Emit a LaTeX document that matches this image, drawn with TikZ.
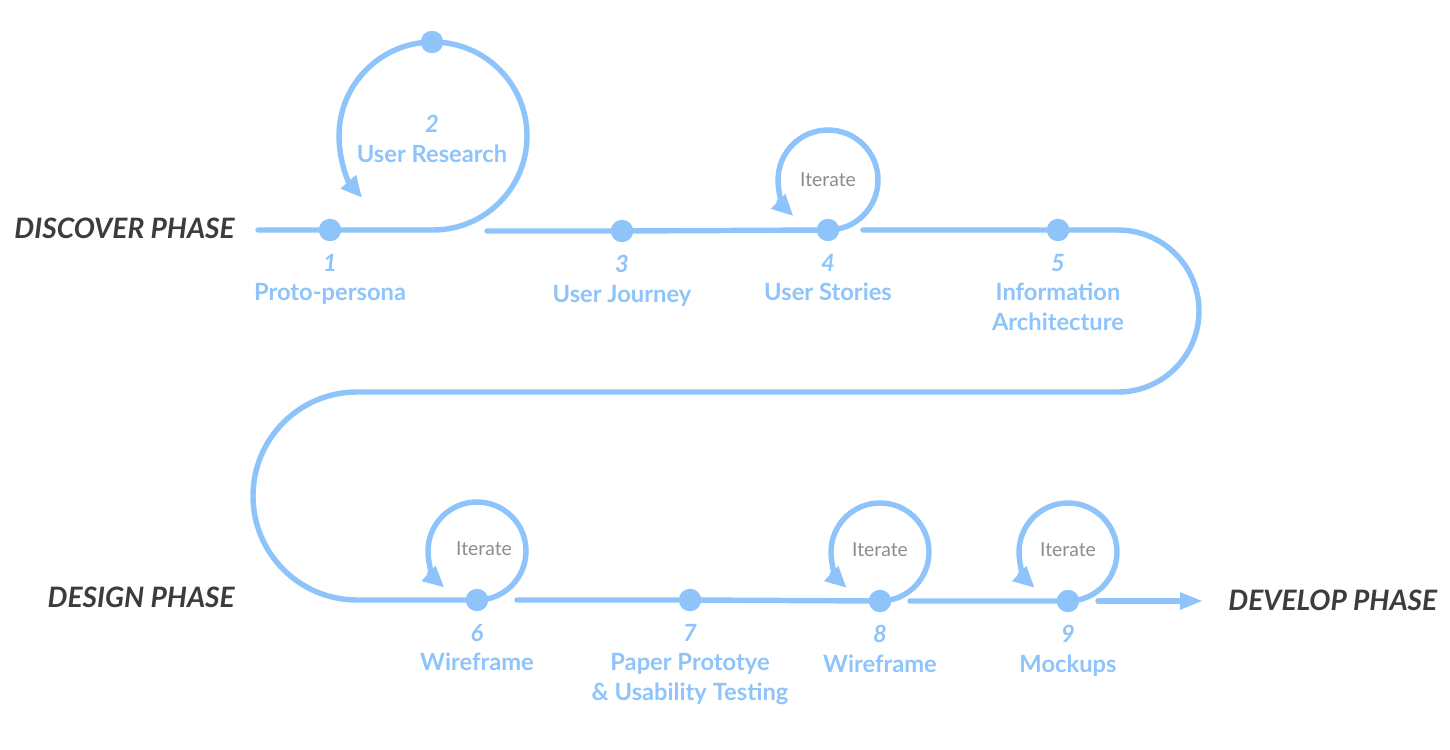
\documentclass[tikz,border=0pt]{standalone}
\usepackage{fontspec}
\setmainfont{Lato}
\usetikzlibrary{arrows.meta, positioning}
\definecolor{skyblue}{RGB}{142,196,250}
\definecolor{phasegray}{RGB}{60,60,60}
\definecolor{itergray}{RGB}{140,140,140}

\begin{document}
\begin{tikzpicture}[
    x=0.02cm, y=0.02cm,
    track/.style={draw=skyblue, line width=3.1pt, line cap=round},
    loopback/.style={track, -{Triangle[length=12pt, width=11pt]}},
    dot/.style={circle, fill=skyblue, minimum size=0.45cm, inner sep=0pt},
    steplabel/.style={text=skyblue, font=\bfseries\fontsize{13.5}{17}\selectfont, align=center, inner sep=0pt},
    phase/.style={text=phasegray, font=\bfseries\itshape\fontsize{16}{19}\selectfont, inner sep=0pt},
    iter/.style={text=itergray, font=\fontsize{11}{13}\selectfont, inner sep=0pt}
]
    \useasboundingbox (0,0) rectangle (1450,-750);

    \node[dot] (d1) at (330,-230) {};
    \node[dot] (d2) at (432,-42) {};
    \node[dot] (d3) at (622,-231) {};
    \node[dot] (d4) at (828,-230) {};
    \node[dot] (d5) at (1058,-230) {};
    \node[dot] (d6) at (477,-600) {};
    \node[dot] (d7) at (690,-600) {};
    \node[dot] (d8) at (880,-601) {};
    \node[dot] (d9) at (1068,-601) {};

    \coordinate (s1) at (258,-230);
    \coordinate (s2) at (487,-231);
    \coordinate (s3) at (863,-230);
    \coordinate (s4) at (517,-600);
    \coordinate (s5) at (910,-601);
    \coordinate (s6) at (1098,-601);
    \coordinate (e6) at (1203,-601);

    \draw[loopback] (s1) -- (d1.center) -- (433,-230) arc[start angle=-90, end angle=221, radius=94];
    \draw[loopback] (s2) -- (d3.center) -- (d4.center) arc[start angle=-90, end angle=226, radius=50];
    \draw[loopback] (s3) -- (d5.center) -- (1118,-230) arc[start angle=90, end angle=-90, radius=81]
        -- (357,-392) arc[start angle=90, end angle=270, radius=104]
        -- (d6.center) arc[start angle=-90, end angle=228, radius=49];
    \draw[loopback] (s4) -- (d7.center) -- (d8.center) arc[start angle=-90, end angle=227, radius=49];
    \draw[loopback] (s5) -- (d9.center) arc[start angle=-90, end angle=227, radius=49];
    \draw[track, -{Triangle[length=13pt, width=9pt]}] (s6) -- (e6);

    \node[steplabel, below=0.24cm of d1] (l1) {\textit{1}\\Proto-persona};
    \node[steplabel] (l2) at (432,-139) {\textit{2}\\User Research};
    \node[steplabel, below=0.24cm of d3] (l3) {\textit{3}\\User Journey};
    \node[steplabel, below=0.24cm of d4] (l4) {\textit{4}\\User Stories};
    \node[steplabel, below=0.24cm of d5] (l5) {\textit{5}\\Information\\Architecture};
    \node[steplabel, below=0.24cm of d6] (l6) {\textit{6}\\Wireframe};
    \node[steplabel, below=0.24cm of d7] (l7) {\textit{7}\\Paper Prototye\\\& Usability Testing};
    \node[steplabel, below=0.24cm of d8] (l8) {\textit{8}\\Wireframe};
    \node[steplabel, below=0.24cm of d9] (l9) {\textit{9}\\Mockups};

    \node[iter] (i4) at (828,-180) {Iterate};
    \node[iter] (i6) at (484,-549) {Iterate};
    \node[iter] (i8) at (880,-550) {Iterate};
    \node[iter] (i9) at (1068,-550) {Iterate};

    \node[phase, anchor=east] (discover) at (235,-228) {DISCOVER PHASE};
    \node[phase, anchor=east] (design) at (235,-597) {DESIGN PHASE};
    \node[phase, anchor=west] (develop) at (1228,-600) {DEVELOP PHASE};
\end{tikzpicture}
\end{document}
